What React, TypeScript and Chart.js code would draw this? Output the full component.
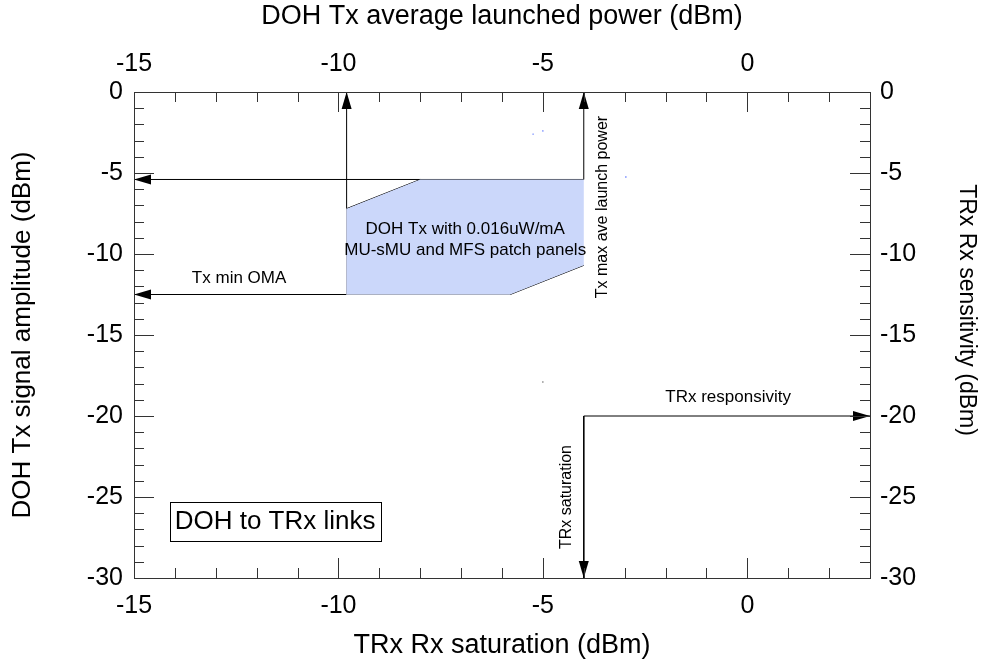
import React, { useEffect, useRef } from "react";
import { Chart, registerables } from "chart.js";

Chart.register(...registerables);

const FONT = "'Liberation Sans', Arial, sans-serif";

// axes
const X_MIN = -15;
const X_MAX = 3;
const Y_MIN = -30;
const Y_MAX = 0;
const xTickLabels = [-15, -10, -5, 0];
const yTickLabels = [0, -5, -10, -15, -20, -25, -30];

// shaded region (DOH Tx window)
const regionX = [-9.8, -8.0, -4.0, -4.0, -5.8, -9.8];
const regionY = [-7.2, -5.4, -5.4, -10.7, -12.5, -12.5];

// plain edges
const upperSlantX = [-9.8, -8.0];
const upperSlantY = [-7.2, -5.4];
const lowerSlantX = [-4.0, -5.8];
const lowerSlantY = [-10.7, -12.5];
const bottomEdgeX = [-5.8, -9.8];
const bottomEdgeY = [-12.5, -12.5];
const leftEdgeX = [-9.8, -9.8];
const leftEdgeY = [-12.5, -7.2];

// arrows (from -> to, head at "to")
const arrowFromX = [-9.8, -4.0, -4.0, -9.8, -4.0, -4.0];
const arrowFromY = [-7.2, -5.4, -5.4, -12.5, -20.0, -20.0];
const arrowToX = [-9.8, -4.0, -15.0, -15.0, 3.0, -4.0];
const arrowToY = [0.0, 0.0, -5.4, -12.5, -20.0, -30.0];

// stray specks
const speckX = [-5.24, -5.0, -2.97];
const speckY = [-2.6, -2.4, -5.25];
const grayspeckX = [-5.0];
const grayspeckY = [-17.9];

// annotations
const noteTexts = [
  "DOH Tx with 0.016uW/mA",
  "MU-sMU and MFS patch panels",
  "Tx min OMA",
  "Tx max ave launch power",
  "TRx responsivity",
  "TRx saturation",
];
const noteX = [-6.9, -6.9, -12.43, -3.55, -0.47, -4.41];
const noteY = [-8.5, -9.75, -11.48, -7.1, -18.83, -25.0];
const noteVertical = [false, false, false, true, false, true];

const boxText = "DOH to TRx links";
const boxX = -11.55;
const boxY = -26.5;

const xTitleBottom = "TRx Rx saturation (dBm)";
const xTitleTop = "DOH Tx average launched power (dBm)";
const yTitleLeft = "DOH Tx signal amplitude (dBm)";
const yTitleRight = "TRx Rx sensitivity (dBm)";

const toPts = (xs: number[], ys: number[]) => xs.map((x, i) => ({ x, y: ys[i] }));

const framePlugin = {
  id: "frameTicks",
  afterDraw(chart: any) {
    const ctx: CanvasRenderingContext2D = chart.ctx;
    const xs = chart.scales.x;
    const ys = chart.scales.y;
    const ca = chart.chartArea;
    const L = ca.left, R = ca.right, T = ca.top, B = ca.bottom;
    const xPix = (v: number) => {
      const p = xs.getPixelForValue(v);
      return Number.isFinite(p) ? p : L + ((v - X_MIN) / (X_MAX - X_MIN)) * (R - L);
    };
    const yPix = (v: number) => {
      const p = ys.getPixelForValue(v);
      return Number.isFinite(p) ? p : B - ((v - Y_MIN) / (Y_MAX - Y_MIN)) * (B - T);
    };
    ctx.save();
    ctx.setLineDash([]);
    ctx.globalAlpha = 1;
    ctx.strokeStyle = "#333333";
    ctx.lineWidth = 1;
    ctx.beginPath();
    for (let v = X_MIN; v <= X_MAX; v += 1) {
      const px = Math.round(xPix(v)) + 0.5;
      const len = Math.abs(v % 5) < 1e-9 ? 20 : 10;
      ctx.moveTo(px, B);
      ctx.lineTo(px, B - len);
      ctx.moveTo(px, T);
      ctx.lineTo(px, T + len);
    }
    for (let v = Y_MIN; v <= Y_MAX; v += 1) {
      const py = Math.round(yPix(v)) + 0.5;
      const len = Math.abs(v % 5) < 1e-9 ? 20 : 10;
      ctx.moveTo(L, py);
      ctx.lineTo(L + len, py);
      ctx.moveTo(R, py);
      ctx.lineTo(R - len, py);
    }
    ctx.stroke();
    ctx.strokeRect(Math.round(L) + 0.5, Math.round(T) + 0.5, Math.round(R - L), Math.round(B - T));

    // right-hand title
    ctx.fillStyle = "#000";
    ctx.font = `23px ${FONT}`;
    ctx.textAlign = "center";
    ctx.textBaseline = "middle";
    ctx.translate(966, 310);
    ctx.rotate(Math.PI / 2);
    ctx.fillText(yTitleRight, 0, 0);
    ctx.restore();
  },
};

const overlayPlugin = {
  id: "overlay",
  afterDatasetsDraw(chart: any) {
    const ctx: CanvasRenderingContext2D = chart.ctx;
    const xs = chart.scales.x;
    const ys = chart.scales.y;
    ctx.save();
    // arrowheads
    ctx.fillStyle = "#000";
    chart.data.datasets.forEach((ds: any, i: number) => {
      if (!ds.arrow) return;
      const pts = chart.getDatasetMeta(i).data;
      const a = pts[pts.length - 2];
      const b = pts[pts.length - 1];
      const ang = Math.atan2(b.y - a.y, b.x - a.x);
      const HL = 17;
      const HW = 5;
      ctx.save();
      ctx.translate(b.x, b.y);
      ctx.rotate(ang);
      ctx.beginPath();
      ctx.moveTo(0, 0);
      ctx.lineTo(-HL, -HW);
      ctx.lineTo(-HL, HW);
      ctx.closePath();
      ctx.fill();
      ctx.restore();
    });

    // notes
    ctx.fillStyle = "#000";
    ctx.textAlign = "center";
    ctx.textBaseline = "middle";
    noteTexts.forEach((t, i) => {
      const px = xs.getPixelForValue(noteX[i]);
      const py = ys.getPixelForValue(noteY[i]);
      ctx.save();
      ctx.translate(px, py);
      if (noteVertical[i]) {
        ctx.rotate(-Math.PI / 2);
        ctx.font = `16px ${FONT}`;
      } else {
        ctx.font = `17px ${FONT}`;
      }
      ctx.fillText(t, 0, 0);
      ctx.restore();
    });

    // box
    const bx = xs.getPixelForValue(boxX);
    const by = ys.getPixelForValue(boxY);
    ctx.font = `26px ${FONT}`;
    const w = ctx.measureText(boxText).width;
    const bw = Math.round(w + 10);
    const bh = 39;
    ctx.fillStyle = "#fff";
    ctx.fillRect(Math.round(bx - bw / 2) + 0.5, Math.round(by - bh / 2) + 0.5, bw, bh);
    ctx.strokeStyle = "#000";
    ctx.lineWidth = 1;
    ctx.strokeRect(Math.round(bx - bw / 2) + 0.5, Math.round(by - bh / 2) + 0.5, bw, bh);
    ctx.fillStyle = "#000";
    ctx.fillText(boxText, bx, by + 1);
    ctx.restore();
  },
};

const tickFont = { family: FONT, size: 25 };

export default function App() {
  const ref = useRef<HTMLCanvasElement>(null);
  useEffect(() => {
    if (!ref.current) return;
    const line = (xs: number[], ys: number[], color: string, extra: any = {}) => ({
      data: toPts(xs, ys),
      showLine: true,
      borderColor: color,
      borderWidth: 1,
      pointRadius: 0,
      fill: false,
      clip: false,
      ...extra,
    });
    const datasets: any[] = [
      line(regionX, regionY, "rgba(0,0,0,0)", { fill: "shape", backgroundColor: "#cbd7fa", borderWidth: 0 }),
      line(upperSlantX, upperSlantY, "#000"),
      line(lowerSlantX, lowerSlantY, "#000"),
      line(bottomEdgeX, bottomEdgeY, "#8a8a8a"),
      line(leftEdgeX, leftEdgeY, "#9a9aa8"),
    ];
    arrowFromX.forEach((_, i) => {
      datasets.push(line([arrowFromX[i], arrowToX[i]], [arrowFromY[i], arrowToY[i]], "#000", { arrow: true }));
    });
    datasets.push({ data: toPts(speckX, speckY), pointRadius: 0.7, pointBorderWidth: 0, pointBackgroundColor: "#3355ff", showLine: false });
    datasets.push({ data: toPts(grayspeckX, grayspeckY), pointRadius: 0.7, pointBorderWidth: 0, pointBackgroundColor: "#555", showLine: false });

    const xAxis = (pos: string, height: number, title: string, pad: number, tsize: number, tpad: any) => ({
      type: "linear",
      position: pos,
      min: X_MIN,
      max: X_MAX,
      grid: { display: false, drawTicks: false },
      border: { display: false },
      afterFit: (s: any) => { s.height = height; },
      ticks: {
        stepSize: 1,
        autoSkip: false,
        maxRotation: 0,
        padding: pad,
        color: "#000",
        font: tickFont,
        callback: (v: number) => (xTickLabels.includes(v) ? String(v) : ""),
      },
      title: { display: true, text: title, color: "#000", font: { family: FONT, size: tsize }, padding: tpad },
    });
    const yAxis = (pos: string, width: number, title: string | null, pad: number, tsize: number, tpad: any) => ({
      type: "linear",
      position: pos,
      min: Y_MIN,
      max: Y_MAX,
      grid: { display: false, drawTicks: false },
      border: { display: false },
      afterFit: (s: any) => { s.width = width; },
      ticks: {
        stepSize: 5,
        padding: pad,
        color: "#000",
        font: tickFont,
        callback: (v: number) => (yTickLabels.includes(v) ? String(v) : ""),
      },
      title: { display: !!title, text: title || "", color: "#000", font: { family: FONT, size: tsize }, padding: tpad },
    });

    const chart = new Chart(ref.current, {
      type: "scatter",
      data: { datasets },
      options: {
        responsive: false,
        animation: false,
        layout: { padding: 0 },
        plugins: { legend: { display: false }, tooltip: { enabled: false } },
        scales: {
          x: xAxis("bottom", 85, xTitleBottom, 13, 27, { top: 0, bottom: 1 }),
          x2: xAxis("top", 92, xTitleTop, 13, 27, { top: 0, bottom: 0 }),
          y: yAxis("left", 134, yTitleLeft, 11, 26, { top: 7, bottom: 0 }),
          y2: yAxis("right", 113, null, 10, 23, { top: 0, bottom: 0 }),
        } as any,
      },
      plugins: [overlayPlugin, framePlugin],
    } as any);
    return () => chart.destroy();
  }, []);
  return (
    <div style={{ position: "fixed", left: 0, top: 0, width: 983, height: 663, background: "#fff" }}>
      <canvas ref={ref} width={983} height={663} style={{ width: 983, height: 663 }} />
    </div>
  );
}
